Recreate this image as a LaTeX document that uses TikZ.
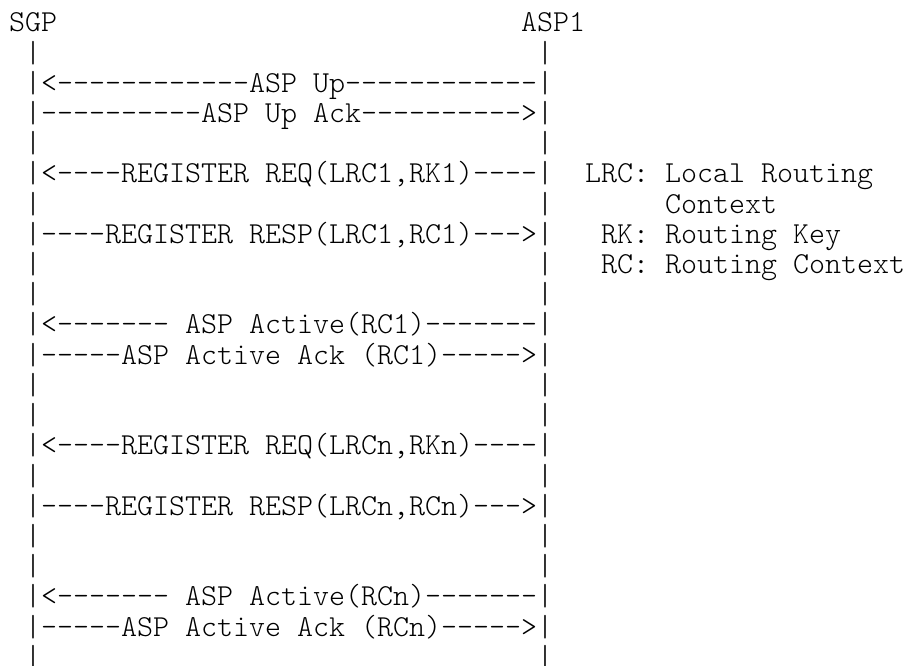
\documentclass[tikz,border=0pt]{standalone}
\usepackage{fontspec}
\newfontfamily\asciimono{lmmonolt10-regular.otf}
\begin{document}
\begin{tikzpicture}[x=0.75pt,y=-0.75pt,
  t/.style={anchor=base west, inner sep=0pt, outer sep=0pt,
            font=\asciimono\fontsize{22.86pt}{27pt}\selectfont}]
\fill[white] (0,0) rectangle (907,666);
\useasboundingbox (0,0) rectangle (907,666);
% headers
\node[t] (sgp) at (9,32) {SGP};
\node[t] (asp) at (521,32) {ASP1};
% plain lifeline rows
\foreach \k in {1,4,6,8,9,12,13,15,17,18,21} {
  \node[t] (l\k) at (25,{32+30.2*\k}) {|};
  \node[t] (r\k) at (537,{32+30.2*\k}) {|};
}
% message rows
\node[t] (m2)  at (25,{32+30.2*2})  {|<------------ASP Up------------|};
\node[t] (m3)  at (25,{32+30.2*3})  {|----------ASP Up Ack---------->|};
\node[t] (m5)  at (25,{32+30.2*5})  {|<----REGISTER REQ(LRC1,RK1)----|};
\node[t] (m7)  at (25,{32+30.2*7})  {|----REGISTER RESP(LRC1,RC1)--->|};
\node[t] (m10) at (25,{32+30.2*10}) {|<------- ASP Active(RC1)-------|};
\node[t] (m11) at (25,{32+30.2*11}) {|-----ASP Active Ack (RC1)----->|};
\node[t] (m14) at (25,{32+30.2*14}) {|<----REGISTER REQ(LRCn,RKn)----|};
\node[t] (m16) at (25,{32+30.2*16}) {|----REGISTER RESP(LRCn,RCn)--->|};
\node[t] (m19) at (25,{32+30.2*19}) {|<------- ASP Active(RCn)-------|};
\node[t] (m20) at (25,{32+30.2*20}) {|-----ASP Active Ack (RCn)----->|};
% legend
\node[t] (n1) at (585,{32+30.2*5}) {LRC: Local Routing};
\node[t] (n2) at (665,{32+30.2*6}) {Context};
\node[t] (n3) at (601,{32+30.2*7}) {RK: Routing Key};
\node[t] (n4) at (601,{32+30.2*8}) {RC: Routing Context};
\end{tikzpicture}
\end{document}
